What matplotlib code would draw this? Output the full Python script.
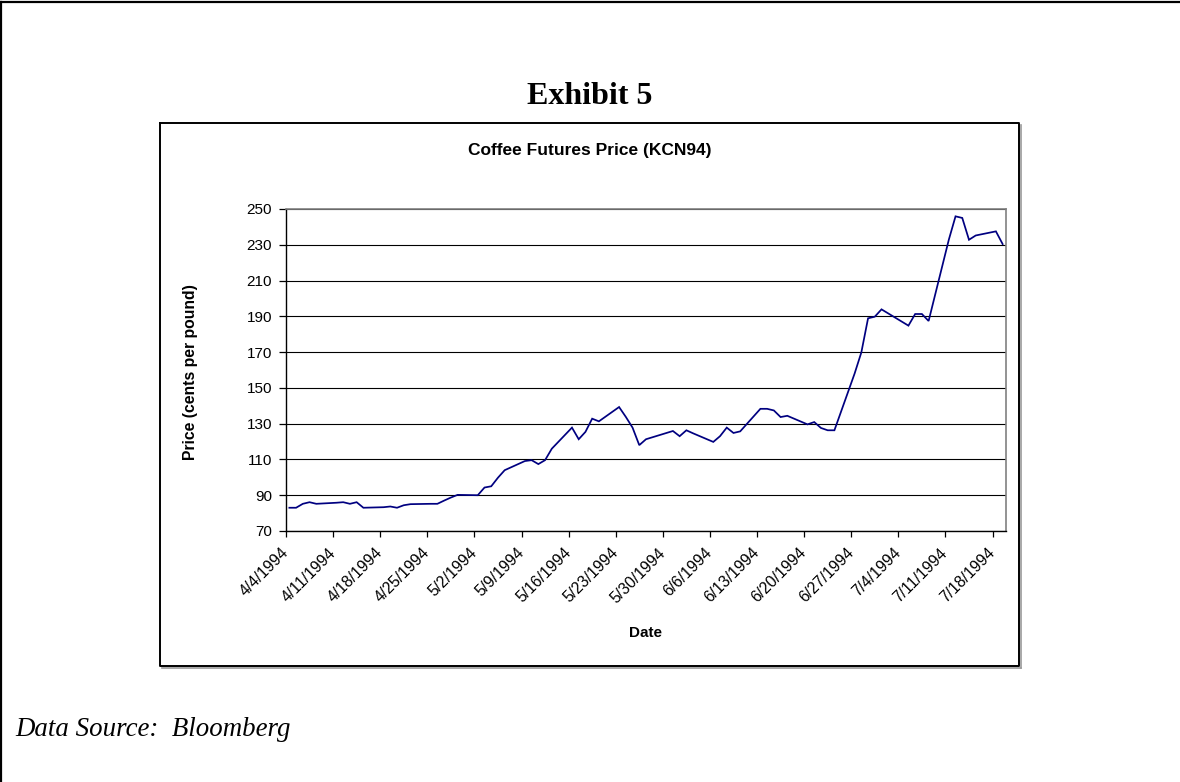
import matplotlib
matplotlib.use('Agg')
import matplotlib.pyplot as plt
import matplotlib.dates as mdates
from matplotlib.lines import Line2D
from matplotlib.transforms import ScaledTranslation
import pandas as pd

# ---------------- data ----------------
dates = ['1994-04-04', '1994-04-05', '1994-04-06', '1994-04-07', '1994-04-08',
         '1994-04-11', '1994-04-12', '1994-04-13', '1994-04-14', '1994-04-15',
         '1994-04-18', '1994-04-19', '1994-04-20', '1994-04-21', '1994-04-22',
         '1994-04-25', '1994-04-26', '1994-04-27', '1994-04-28', '1994-04-29',
         '1994-05-02', '1994-05-03', '1994-05-04', '1994-05-05', '1994-05-06',
         '1994-05-09', '1994-05-10', '1994-05-11', '1994-05-12', '1994-05-13',
         '1994-05-16', '1994-05-17', '1994-05-18', '1994-05-19', '1994-05-20',
         '1994-05-23', '1994-05-24', '1994-05-25', '1994-05-26', '1994-05-27',
         '1994-05-31', '1994-06-01', '1994-06-02', '1994-06-03',
         '1994-06-06', '1994-06-07', '1994-06-08', '1994-06-09', '1994-06-10',
         '1994-06-13', '1994-06-14', '1994-06-15', '1994-06-16', '1994-06-17',
         '1994-06-20', '1994-06-21', '1994-06-22', '1994-06-23', '1994-06-24',
         '1994-06-27', '1994-06-28', '1994-06-29', '1994-06-30', '1994-07-01',
         '1994-07-05', '1994-07-06', '1994-07-07', '1994-07-08',
         '1994-07-11', '1994-07-12', '1994-07-13', '1994-07-14', '1994-07-15',
         '1994-07-18', '1994-07-19']

prices = [83.0, 83.0, 85.2, 86.1, 85.2,
          85.8, 86.1, 85.2, 86.1, 83.0,
          83.3, 83.7, 83.0, 84.4, 85.0,
          85.2, 85.2, 87.0, 88.7, 90.2,
          90.0, 94.3, 95.0, 99.8, 104.0,
          109.1, 109.6, 107.4, 109.6, 116.0,
          127.8, 121.3, 125.4, 132.8, 131.3,
          139.3, 133.8, 127.8, 118.0, 121.3,
          125.9, 123.0, 126.3, 124.6,
          119.8, 123.0, 127.8, 124.8, 125.7,
          138.3, 138.3, 137.4, 133.7, 134.4,
          129.6, 130.9, 127.6, 126.3, 126.3,
          158.0, 169.8, 188.9, 189.8, 193.9,
          184.8, 191.3, 191.3, 187.4,
          232.8, 245.9, 245.0, 232.8, 235.2,
          237.5, 230.4]

tick_dates = ['1994-04-04', '1994-04-11', '1994-04-18', '1994-04-25', '1994-05-02',
              '1994-05-09', '1994-05-16', '1994-05-23', '1994-05-30', '1994-06-06',
              '1994-06-13', '1994-06-20', '1994-06-27', '1994-07-04', '1994-07-11',
              '1994-07-18']
tick_labels = ['4/4/1994', '4/11/1994', '4/18/1994', '4/25/1994', '5/2/1994',
               '5/9/1994', '5/16/1994', '5/23/1994', '5/30/1994', '6/6/1994',
               '6/13/1994', '6/20/1994', '6/27/1994', '7/4/1994', '7/11/1994',
               '7/18/1994']
y_ticks = [70, 90, 110, 130, 150, 170, 190, 210, 230, 250]

exhibit_title = 'Exhibit 5'
chart_title = 'Coffee Futures Price (KCN94)'
y_label = 'Price (cents per pound)'
x_label = 'Date'
source_text = 'Data Source:  Bloomberg'

# ---------------- figure ----------------
W, H = 1180, 782
fig = plt.figure(figsize=(W / 100, H / 100), dpi=100)
fig.patch.set_facecolor('white')

def fx(x):
    return x / W

def fy(y):
    return 1 - y / H

sans = ['Liberation Sans', 'Arial', 'DejaVu Sans']
serif = ['Liberation Serif', 'Times New Roman', 'DejaVu Serif']

# outer page border (left and top)
fig.add_artist(Line2D([fx(1), fx(1)], [0, fy(2)], color='black', lw=1.6,
                      transform=fig.transFigure))
fig.add_artist(Line2D([fx(1), 1], [fy(2), fy(2)], color='black', lw=1.6,
                      transform=fig.transFigure))

# chart frame with shadow
L, T, R, B = 160, 123, 1019, 666
fig.add_artist(Line2D([fx(R + 2), fx(R + 2)], [fy(T + 2), fy(B + 2)], color='#9a9a9a',
                      lw=1.2, transform=fig.transFigure))
fig.add_artist(Line2D([fx(L + 2), fx(R + 2)], [fy(B + 2), fy(B + 2)], color='#9a9a9a',
                      lw=1.2, transform=fig.transFigure))
fig.add_artist(Line2D([fx(L), fx(R), fx(R), fx(L), fx(L)],
                      [fy(T), fy(T), fy(B), fy(B), fy(T)], color='black', lw=1.4,
                      transform=fig.transFigure))

# texts
fig.text(fx(590), fy(97), exhibit_title, ha='center', va='center', fontsize=23,
         fontweight='bold', family=serif)
fig.text(fx(590), fy(150), chart_title, ha='center', va='center', fontsize=12.5,
         fontweight='bold', family=sans)
fig.text(fx(15), fy(736), source_text, ha='left', va='baseline', fontsize=19.4,
         fontstyle='italic', family=serif)
fig.text(fx(191), fy(372), y_label, ha='center', va='center', rotation=90,
         fontsize=11.3, fontweight='bold', family=sans)
fig.text(fx(646), fy(633), x_label, ha='center', va='center', fontsize=11,
         fontweight='bold', family=sans)

# axes
ax = fig.add_axes([fx(286), fy(531), (1006 - 286) / W, (531 - 209) / H])
x = mdates.date2num(pd.to_datetime(dates)) + 0.5
ax.plot(x, prices, color='#000080', lw=1.25, solid_joinstyle='miter', zorder=3)

ax.set_xlim(mdates.date2num(pd.Timestamp('1994-04-04')),
            mdates.date2num(pd.Timestamp('1994-07-20')))
ax.set_ylim(70, 250)
ax.set_yticks(y_ticks)
ax.set_yticklabels([str(v) for v in y_ticks], family=sans, fontsize=11)
ax.yaxis.grid(True, color='black', lw=0.8)
ax.set_axisbelow(True)

ax.set_xticks(mdates.date2num(pd.to_datetime(tick_dates)))
ax.set_xticklabels(tick_labels, rotation=45, ha='right', va='center',
                   rotation_mode='anchor', family=sans, fontsize=11.3)
offset = ScaledTranslation(-4 / 100, 0, fig.dpi_scale_trans)
for lbl in ax.get_xticklabels():
    lbl.set_transform(lbl.get_transform() + offset)

ax.tick_params(axis='x', direction='out', length=4, width=0.9, pad=10, colors='black')
ax.tick_params(axis='y', direction='out', length=5, width=0.9, pad=5, colors='black')

for s in ['left', 'bottom']:
    ax.spines[s].set_color('black')
    ax.spines[s].set_linewidth(1.0)
for s in ['top', 'right']:
    ax.spines[s].set_color('#808080')
    ax.spines[s].set_linewidth(1.2)

fig.savefig('out.png', dpi=100, facecolor='white')
